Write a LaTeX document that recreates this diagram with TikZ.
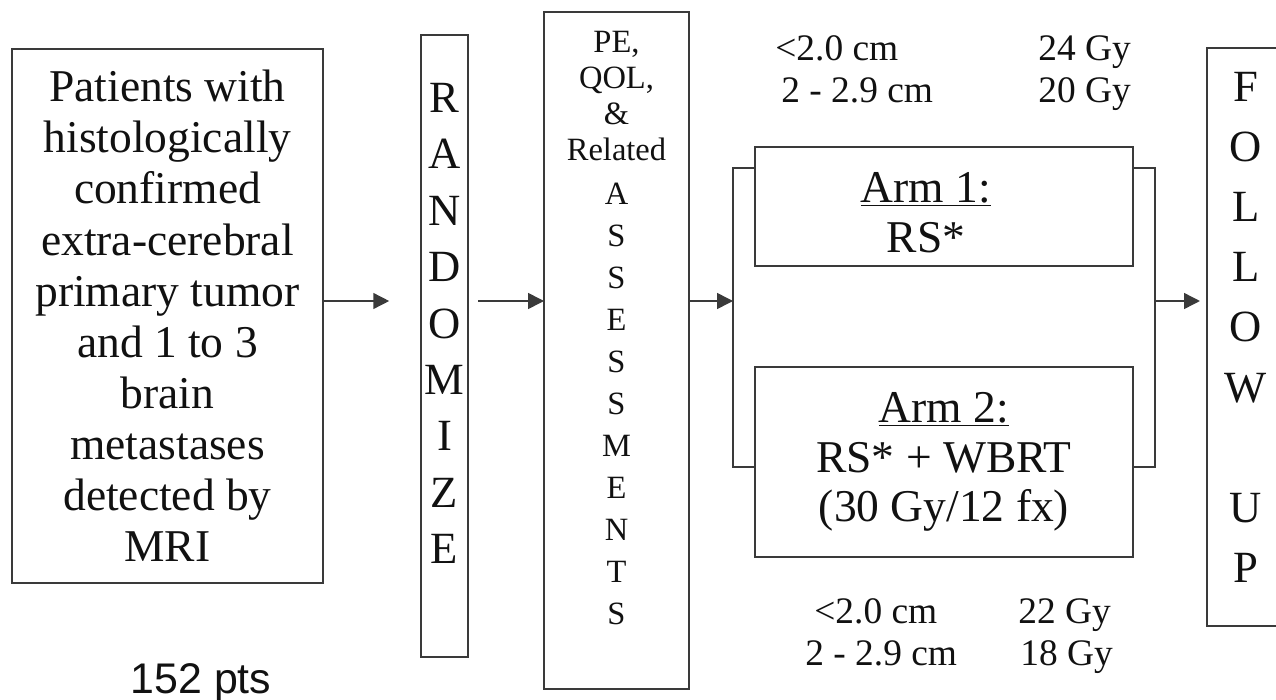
\documentclass[tikz,border=0pt]{standalone}
\usepackage{fontspec}
\setmainfont{Liberation Serif}
\newfontfamily\ptsfont{Liberation Sans}
\usetikzlibrary{arrows.meta, positioning, calc}
\definecolor{frameLine}{HTML}{3A3A3A}
\definecolor{bodyText}{HTML}{111111}

\begin{document}
\begin{tikzpicture}[
  x=0.02cm, y=-0.02cm,
  text=bodyText,
  box/.style    ={draw=frameLine, line width=0.85pt, inner sep=0pt, outer sep=0pt, align=center},
  bigtxt/.style ={font=\fontsize{25.9}{29.1}\selectfont},
  stack/.style  ={inner sep=0pt, align=center, anchor=north},
  dose/.style   ={inner sep=0pt, anchor=base west, font=\fontsize{21.3}{24}\selectfont},
  link/.style   ={draw=frameLine, line width=0.85pt},
  flow/.style   ={-{Triangle[length=9pt, width=9pt]}, draw=frameLine, line width=0.85pt},
]
\path[use as bounding box, clip] (0,0) rectangle (1276,700);

% ----- Eligibility -----
\node[box, bigtxt, minimum width=6.22cm, minimum height=10.68cm] (PAT) at (167.5,316)
  {Patients with\\histologically\\confirmed\\extra-cerebral\\primary tumor\\and 1 to 3\\brain\\metastases\\detected by\\MRI};
\node[inner sep=0pt, anchor=base, font=\ptsfont\fontsize{24.4}{28}\selectfont] (PTS) at (201,693) {152 pts};

% ----- Randomize -----
\node[box, minimum width=0.94cm, minimum height=12.44cm] (RAND) at (444.5,346) {};
\node[stack, font=\fontsize{25.4}{32.1}\selectfont] (RANDtxt) at (444.5,83)
  {R\\A\\N\\D\\O\\M\\I\\Z\\E};

% ----- Assessments -----
\node[box, minimum width=2.9cm, minimum height=13.54cm] (ASSESS) at (616.5,350.5) {};
\node[stack, font=\fontsize{18.5}{20.4}\selectfont] (ASSESStop) at (616.5,31)
  {PE,\\QOL,\\\&\\Related};
\node[stack, font=\fontsize{18.5}{23.9}\selectfont] (ASSESStxt) at (616.5,183)
  {A\\S\\S\\E\\S\\S\\M\\E\\N\\T\\S};

% ----- Treatment arms -----
\node[box, minimum width=7.56cm, minimum height=2.38cm] (ARM1) at (944,206.5) {};
\node[stack, font=\fontsize{25.9}{28.3}\selectfont] (ARM1txt) at (926,172)
  {\underline{Arm 1:}\\RS*};
\node[box, font=\fontsize{25.9}{28.3}\selectfont, minimum width=7.56cm, minimum height=3.8cm] (ARM2) at (944,462)
  {\underline{Arm 2:}\\RS* + WBRT\\(30 Gy/12 fx)};

% ----- Dose tables -----
\node[dose] (SZa1) at (775,60)  {<2.0 cm};
\node[dose] (SZa2) at (781,102) {2 - 2.9 cm};
\node[dose] (GYa1) at (1038,60)  {24 Gy};
\node[dose] (GYa2) at (1038,102) {20 Gy};
\node[dose] (SZb1) at (814,623) {<2.0 cm};
\node[dose] (SZb2) at (805,665) {2 - 2.9 cm};
\node[dose] (GYb1) at (1018,623) {22 Gy};
\node[dose] (GYb2) at (1020,665) {18 Gy};

% ----- Follow up -----
\node[box, minimum width=1.6cm, minimum height=11.56cm] (FOLLOW) at (1247,337) {};
\node[stack, font=\fontsize{25.4}{34.2}\selectfont] (FOLLOWtxt) at (1246,72)
  {F\\O\\L\\L\\O\\W\\\mbox{}\\U\\P};

% ----- Brackets round the arms -----
\coordinate (mid)    at (0,301);
\coordinate (brTopL) at (733,168);
\coordinate (brBotL) at (733,467);
\coordinate (brTopR) at (1155,168);
\coordinate (brBotR) at (1155,467);
\draw[link] (ARM1.west |- brTopL) -- (brTopL) -- (brBotL) -- (ARM2.west |- brBotL);
\draw[link] (ARM1.east |- brTopR) -- (brTopR) -- (brBotR) -- (ARM2.east |- brBotR);

% ----- Arrows -----
\draw[flow, shorten >=18.1pt] (PAT.east |- mid) -- (RAND.west |- mid);
\draw[flow, shorten <=5.7pt]  (RAND.east |- mid) -- (ASSESS.west |- mid);
\draw[flow] (ASSESS.east |- mid) -- (brTopL |- mid);
\draw[flow, shorten >=4pt] (brTopR |- mid) -- (FOLLOW.west |- mid);

\end{tikzpicture}
\end{document}
